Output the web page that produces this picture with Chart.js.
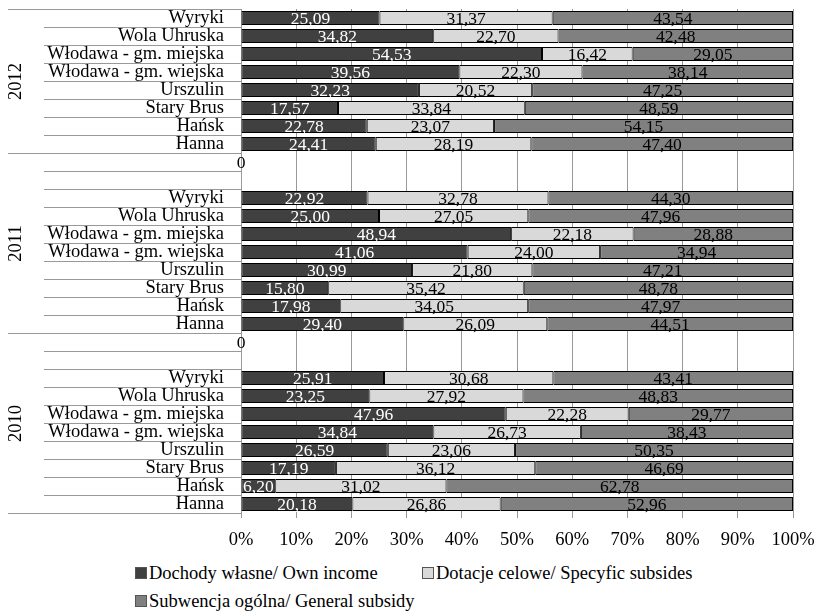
<!DOCTYPE html>
<html>
<head>
<meta charset="utf-8">
<script src="https://cdn.jsdelivr.net/npm/chart.js@4/dist/chart.umd.min.js"></script>
<style>
  html,body{margin:0;padding:0;background:#fff;}
  #wrap{position:relative;width:818px;height:614px;font-family:'Liberation Serif','Times New Roman',serif;}
  #chart{position:absolute;left:0;top:0;}
  .leg{position:absolute;font-size:18.5px;line-height:20px;color:#000;white-space:nowrap;}
  .leg i{display:inline-block;width:10px;height:10px;border:1px solid #555;margin-right:2px;vertical-align:0px;}
</style>
</head>
<body>
<div id="wrap">
  <canvas id="chart" width="818" height="556"></canvas>
  <div id="legend"></div>
</div>
<script>
// ── DATA ─────────────────────────────────────────
const gminy = ['Wyryki','Wola Uhruska','Włodawa - gm. miejska','Włodawa - gm. wiejska','Urszulin','Stary Brus','Hańsk','Hanna'];
const years = ['2012','2011','2010'];

const own2012  = [25.09, 34.82, 54.53, 39.56, 32.23, 17.57, 22.78, 24.41];
const own2011  = [22.92, 25.00, 48.94, 41.06, 30.99, 15.80, 17.98, 29.40];
const own2010  = [25.91, 23.25, 47.96, 34.84, 26.59, 17.19,  6.20, 20.18];

const spec2012 = [31.37, 22.70, 16.42, 22.30, 20.52, 33.84, 23.07, 28.19];
const spec2011 = [32.78, 27.05, 22.18, 24.00, 21.80, 35.42, 34.05, 26.09];
const spec2010 = [30.68, 27.92, 22.28, 26.73, 23.06, 36.12, 31.02, 26.86];

const gen2012  = [43.54, 42.48, 29.05, 38.14, 47.25, 48.59, 54.15, 47.40];
const gen2011  = [44.30, 47.96, 28.88, 34.94, 47.21, 48.78, 47.97, 44.51];
const gen2010  = [43.41, 48.83, 29.77, 38.43, 50.35, 46.69, 62.78, 52.96];

const seriesNames  = ['Dochody własne/ Own income','Dotacje celowe/ Specyfic subsides','Subwencja ogólna/ General subsidy'];
const seriesColors = ['#404040','#d9d9d9','#808080'];
const labelColors  = ['#fff','#000','#000'];

// ── BUILD ROWS (two empty rows between years) ───
const labels = [...gminy, '', '', ...gminy, '', '', ...gminy];
const own  = [...own2012, 0, null, ...own2011, 0, null, ...own2010];
const spec = [...spec2012, null, null, ...spec2011, null, null, ...spec2010];
const gen  = [...gen2012, null, null, ...gen2011, null, null, ...gen2010];
const groupStarts = [0, 8, 18];

const FONT = "'Liberation Serif','Times New Roman',serif";
const fmt = v => v === 0 ? '0' : v.toFixed(2).replace('.', ',');

// ── PLUGINS ──────────────────────────────────────
const valueLabels = {
  id: 'valueLabels',
  afterDatasetsDraw(chart) {
    const ctx = chart.ctx;
    ctx.save();
    ctx.font = '17.5px ' + FONT;
    ctx.textAlign = 'center';
    ctx.textBaseline = 'middle';
    chart.data.datasets.forEach((ds, di) => {
      const meta = chart.getDatasetMeta(di);
      meta.data.forEach((el, i) => {
        const v = ds.data[i];
        if (v == null) return;
        ctx.fillStyle = v === 0 ? '#000' : labelColors[di];
        ctx.fillText(fmt(v), (el.x + el.base) / 2, el.y + 1);
      });
    });
    ctx.restore();
  }
};

const leftFrame = {
  id: 'leftFrame',
  afterDraw(chart) {
    const ctx = chart.ctx, y = chart.scales.y, left = chart.chartArea.left;
    const row = y.getPixelForValue(1) - y.getPixelForValue(0);
    const edge = i => Math.round(y.getPixelForValue(0) - row / 2 + i * row) + 0.5;
    ctx.save();
    ctx.strokeStyle = '#999';
    ctx.lineWidth = 1;
    for (let i = 0; i <= labels.length; i++) {
      const major = groupStarts.includes(i) || i === labels.length;
      ctx.beginPath();
      ctx.moveTo(major ? 8 : 44, edge(i));
      ctx.lineTo(left, edge(i));
      ctx.stroke();
    }
    // year labels
    ctx.fillStyle = '#000';
    ctx.font = '18.5px ' + FONT;
    ctx.textAlign = 'center';
    ctx.textBaseline = 'middle';
    const ends = [...groupStarts.slice(1), labels.length];
    years.forEach((yr, g) => {
      const cy = (edge(groupStarts[g]) + edge(ends[g])) / 2;
      ctx.save();
      ctx.translate(16, cy);
      ctx.rotate(-Math.PI / 2);
      ctx.fillText(yr, 0, 0);
      ctx.restore();
    });
    ctx.restore();
  }
};

// ── CHART ────────────────────────────────────────
Chart.defaults.font.family = FONT;
Chart.defaults.color = '#000';

new Chart(document.getElementById('chart'), {
  type: 'bar',
  data: {
    labels,
    datasets: [own, spec, gen].map((d, i) => ({
      label: seriesNames[i],
      data: d,
      backgroundColor: seriesColors[i],
      borderColor: '#000',
      borderWidth: 1,
      borderSkipped: false,
      categoryPercentage: 1,
      barPercentage: 0.78
    }))
  },
  options: {
    indexAxis: 'y',
    responsive: false,
    animation: false,
    devicePixelRatio: 1,
    layout: { padding: { top: 9, right: 25, left: 0, bottom: 0 } },
    plugins: { legend: { display: false }, tooltip: { enabled: false } },
    scales: {
      x: {
        stacked: true, min: 0, max: 100,
        ticks: { stepSize: 10, callback: v => v + '%', font: { size: 18.5 }, padding: 11, maxRotation: 0 },
        grid: { color: '#999', tickLength: 5 },
        border: { display: false },
        afterFit: s => { s.height = 43; s.paddingLeft = 0; s.paddingRight = 0; }
      },
      y: {
        stacked: true,
        ticks: { autoSkip: false, font: { size: 18.5 }, padding: 17 },
        grid: { display: false, drawTicks: false },
        border: { display: false },
        afterFit: s => { s.width = 241; s.paddingTop = 0; s.paddingBottom = 0; }
      }
    }
  },
  plugins: [valueLabels, leftFrame]
});

// ── LEGEND ───────────────────────────────────────
const legPos = [[135, 563], [422, 563], [135, 591]];
document.getElementById('legend').innerHTML = seriesNames.map((n, i) =>
  `<div class="leg" style="left:${legPos[i][0]}px;top:${legPos[i][1]}px"><i style="background:${seriesColors[i]}"></i>${n}</div>`
).join('');
</script>
</body>
</html>
